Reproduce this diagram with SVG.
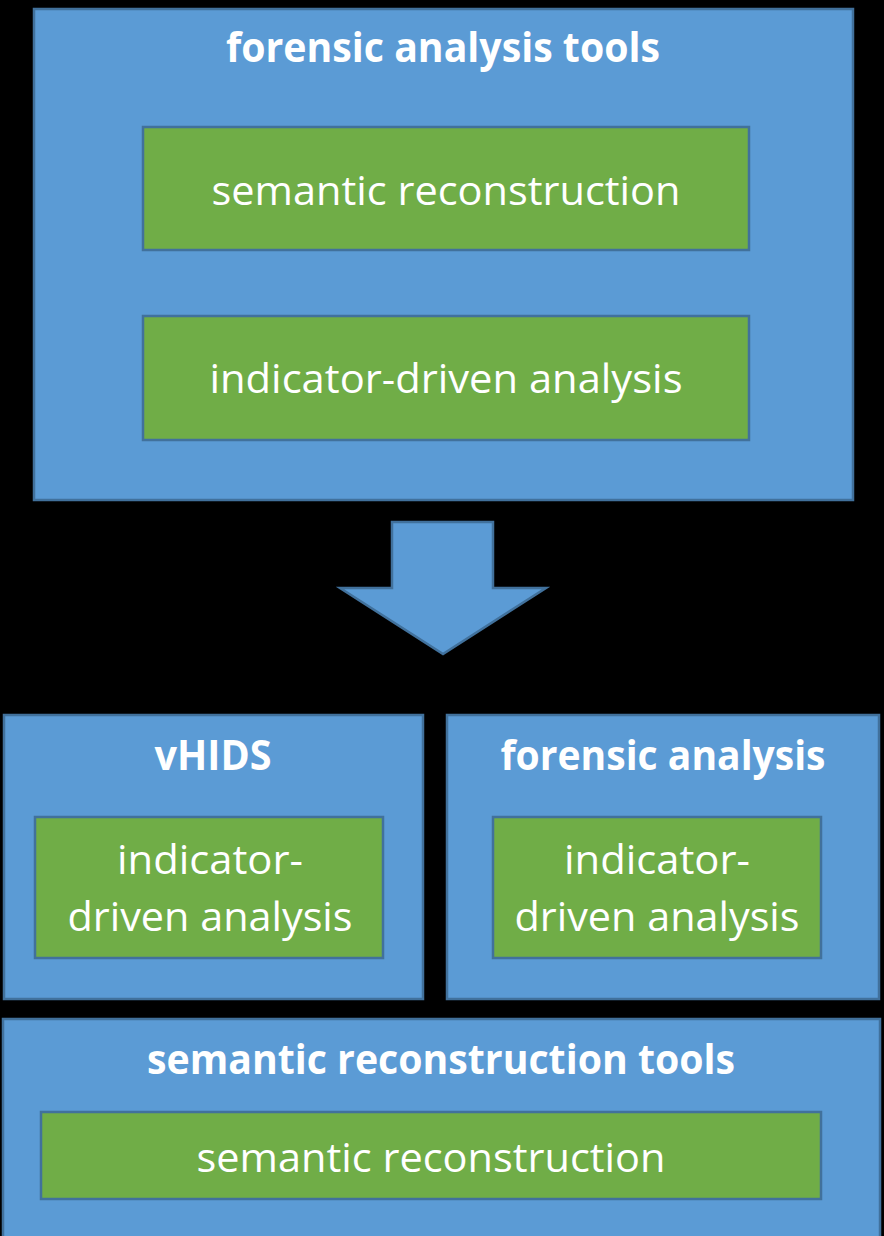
<svg xmlns="http://www.w3.org/2000/svg" width="884" height="1236" viewBox="0 0 884 1236">
  <style>
    .outer { fill: #5B9BD5; stroke: #41719C; stroke-width: 2.5; }
    .inner { fill: #70AD47; stroke: #41719C; stroke-width: 2.5; }
    .title { font-family: "Open Sans", "Liberation Sans", sans-serif; font-weight: bold; font-size: 41px; fill: #FFFFFF; text-anchor: middle; }
    .label { font-family: "Open Sans", "Liberation Sans", sans-serif; font-size: 41px; fill: #FFFFFF; text-anchor: middle; }
  </style>
  <rect x="0" y="0" width="884" height="1236" fill="#000000"/>

  <g id="forensic-analysis-tools">
    <rect class="outer" x="34" y="9" width="819" height="491"/>
    <text class="title" x="443" y="62" textLength="434" lengthAdjust="spacingAndGlyphs">forensic analysis tools</text>
  </g>
  <g id="semantic-reconstruction-top">
    <rect class="inner" x="143" y="127" width="606" height="123"/>
    <text class="label" x="446" y="205" textLength="469" lengthAdjust="spacingAndGlyphs">semantic reconstruction</text>
  </g>
  <g id="indicator-driven-top">
    <rect class="inner" x="143" y="316" width="606" height="124"/>
    <text class="label" x="446" y="393" textLength="473" lengthAdjust="spacingAndGlyphs">indicator-driven analysis</text>
  </g>

  <g id="connectors">
    <polygon class="outer" points="392,522 493,522 493,588 546,588 443,654 340,588 392,588"/>
  </g>

  <g id="vhids">
    <rect class="outer" x="4" y="715" width="419" height="284"/>
    <text class="title" x="213" y="770" textLength="117" lengthAdjust="spacingAndGlyphs">vHIDS</text>
  </g>
  <g id="indicator-driven-vhids">
    <rect class="inner" x="35" y="817" width="348" height="141"/>
    <text class="label" x="210" y="874" textLength="186" lengthAdjust="spacingAndGlyphs">indicator-</text>
    <text class="label" x="210" y="931" textLength="285" lengthAdjust="spacingAndGlyphs">driven analysis</text>
  </g>

  <g id="forensic-analysis">
    <rect class="outer" x="447" y="715" width="432" height="284"/>
    <text class="title" x="663" y="770" textLength="325" lengthAdjust="spacingAndGlyphs">forensic analysis</text>
  </g>
  <g id="indicator-driven-forensic">
    <rect class="inner" x="493" y="817" width="328" height="141"/>
    <text class="label" x="657" y="874" textLength="186" lengthAdjust="spacingAndGlyphs">indicator-</text>
    <text class="label" x="657" y="931" textLength="285" lengthAdjust="spacingAndGlyphs">driven analysis</text>
  </g>

  <g id="semantic-reconstruction-tools">
    <rect class="outer" x="3" y="1019" width="877" height="230"/>
    <text class="title" x="441" y="1074" textLength="588" lengthAdjust="spacingAndGlyphs">semantic reconstruction tools</text>
  </g>
  <g id="semantic-reconstruction-bottom">
    <rect class="inner" x="41" y="1112" width="780" height="87"/>
    <text class="label" x="431" y="1172" textLength="469" lengthAdjust="spacingAndGlyphs">semantic reconstruction</text>
  </g>
</svg>
